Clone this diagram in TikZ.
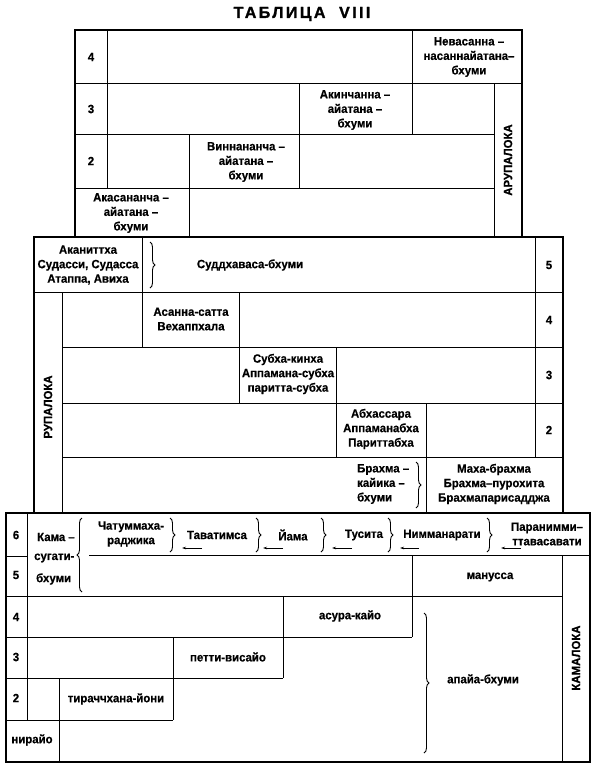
\documentclass[tikz,border=0pt]{standalone}
\usepackage{fontspec}
\setmainfont{Liberation Sans}[FakeStretch=0.95]
\newfontfamily\lblfont{Liberation Sans Bold}[FakeStretch=0.95,FakeBold=0.6]
\newfontfamily\titlefont{Liberation Sans Bold}[LetterSpace=15,FakeBold=1.5]
\usetikzlibrary{decorations.pathreplacing,arrows.meta}
\begin{document}
\begin{tikzpicture}[x=1pt,y=-1pt,
  outer/.style={line width=1.4pt},
  inner/.style={line width=0.9pt},
  lbl/.style={font=\lblfont\fontsize{12}{14.5}\selectfont, align=center, inner sep=0pt},
  vert/.style={lbl, rotate=90},
  brc/.style={decorate, decoration={brace, amplitude=5pt}, line width=0.9pt},
  arr/.style={-{Stealth[length=4pt,width=2.5pt]}, line width=0.7pt}]
\useasboundingbox (0,0) rectangle (600,769);
\node[font=\titlefont\fontsize{16}{18}\selectfont, inner sep=0pt] (title) at (302,14) {ТАБЛИЦА\ \ VIII};

% ---------- Arupaloka ----------
\draw[outer] (75,237) -- (75,30) -- (522,30) -- (522,237);
\draw[inner] (107,30) -- (107,188);
\draw[inner] (75,83) -- (522,83);
\draw[inner] (75,134) -- (494,134);
\draw[inner] (75,188) -- (494,188);
\draw[inner] (412,30) -- (412,134);
\draw[inner] (299,83) -- (299,188);
\draw[inner] (189,134) -- (189,237);
\draw[inner] (494,83) -- (494,237);
\node[lbl] (a4) at (91,57) {4};
\node[lbl] (a3) at (91,109) {3};
\node[lbl] (a2) at (91,161) {2};
\node[lbl] (neva) at (469,57) {Невасанна –\\насаннайатана–\\бхуми};
\node[lbl] (akin) at (355,110) {Акинчанна –\\айатана –\\бхуми};
\node[lbl] (vinn) at (246,162) {Виннананча –\\айатана –\\бхуми};
\node[lbl] (akas) at (131,213) {Акасананча –\\айатана –\\бхуми};
\node[vert] (arupa) at (508,160) {АРУПАЛОКА};

% ---------- Rupaloka ----------
\draw[outer] (34,513) -- (34,237) -- (563,237) -- (563,513);
\draw[inner] (34,292) -- (563,292);
\draw[inner] (62,347) -- (563,347);
\draw[inner] (62,403) -- (563,403);
\draw[inner] (62,457) -- (563,457);
\draw[inner] (62,292) -- (62,513);
\draw[inner] (142,237) -- (142,347);
\draw[inner] (239,292) -- (239,403);
\draw[inner] (336,347) -- (336,457);
\draw[inner] (426,403) -- (426,513);
\draw[inner] (535,237) -- (535,457);
\node[lbl] (r5) at (549,265) {5};
\node[lbl] (r4) at (549,320) {4};
\node[lbl] (r3) at (549,375) {3};
\node[lbl] (r2) at (549,430) {2};
\node[lbl] (akan) at (88,265) {Аканиттха\\Судасси, Судасса\\Атаппа, Авиха};
\draw[brc] (150,242) -- (150,288);
\node[lbl] (sudd) at (250,265) {Суддхаваса-бхуми};
\node[lbl] (asan) at (191,319) {Асанна-сатта\\Вехаппхала};
\node[lbl] (subh) at (288,374) {Субха-кинха\\Аппамана-субха\\паритта-субха};
\node[lbl] (abha) at (381,429) {Абхассара\\Аппаманабха\\Париттабха};
\node[lbl, align=left, anchor=west] (brak) at (357,484) {Брахма –\\кайика –\\бхуми};
\draw[brc] (416,462) -- (416,508);
\node[lbl] (maha) at (494,484) {Маха-брахма\\Брахма–пурохита\\Брахмапарисадджа};
\node[vert] (rupa) at (48,407) {РУПАЛОКА};

% ---------- Kamaloka ----------
\draw[outer] (6,513) rectangle (590,762);
\draw[inner] (27,513) -- (27,720);
\draw[inner] (6,556) -- (27,556);
\draw[inner] (89,555) -- (590,555);
\draw[inner] (6,596) -- (562,596);
\draw[inner] (6,637) -- (412,637);
\draw[inner] (6,678) -- (283,678);
\draw[inner] (6,720) -- (173,720);
\draw[inner] (412,555) -- (412,637);
\draw[inner] (283,596) -- (283,678);
\draw[inner] (173,637) -- (173,720);
\draw[inner] (59,678) -- (59,762);
\draw[inner] (562,555) -- (562,762);
\node[lbl] (k6) at (16,535) {6};
\node[lbl] (k5) at (16,575) {5};
\node[lbl] (k4) at (16,617) {4};
\node[lbl] (k3) at (16,657) {3};
\node[lbl] (k2) at (16,698) {2};
\node[lbl, anchor=west] (kama1) at (37,537) {Кама –};
\node[lbl, anchor=west] (kama2) at (34,558) {сугати-};
\node[lbl, anchor=west] (kama3) at (36,579) {бхуми};
\draw[brc] (82,592) -- (82,518);
\node[lbl] (chat) at (131,534) {Чатуммаха-\\раджика};
\draw[brc] (170,518) -- (170,552);
\node[lbl] (tava) at (217,535) {Таватимса};
\draw[brc] (256,518) -- (256,552);
\node[lbl] (yama) at (293,535) {Йама};
\draw[brc] (321,518) -- (321,552);
\node[lbl] (tusi) at (364,535) {Тусита};
\draw[brc] (388,518) -- (388,552);
\node[lbl] (nimm) at (442,535) {Нимманарати};
\draw[brc] (487,518) -- (487,552);
\node[lbl] (para) at (547,534) {Паранимми–\\ттавасавати};
\draw[arr] (202,548) -- (182,548);
\draw[arr] (283,548) -- (263,548);
\draw[arr] (352,548) -- (332,548);
\draw[arr] (419,548) -- (400,548);
\draw[arr] (521,548) -- (501,548);
\node[lbl] (manu) at (490,577) {манусса};
\node[lbl] (asur) at (350,616) {асура-кайо};
\node[lbl] (pett) at (228,657) {петти-висайо};
\node[lbl] (tira) at (116,699) {тираччхана-йони};
\node[lbl] (nira) at (32,740) {нирайо};
\draw[brc] (424,613) -- (424,753);
\node[lbl] (apay) at (483,680) {апайа-бхуми};
\node[vert] (kama) at (576,658) {КАМАЛОКА};
\end{tikzpicture}
\end{document}
